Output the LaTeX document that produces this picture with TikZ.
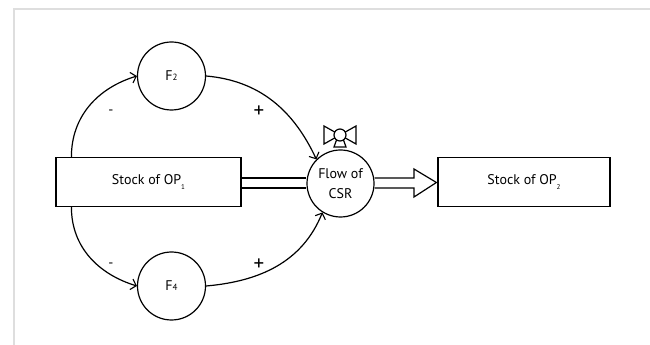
\documentclass[tikz,border=0pt]{standalone}
\usepackage{fontspec}
\setmainfont{PT Sans}
\usetikzlibrary{positioning, arrows, arrows.meta, calc}

\newcommand{\opsub}[1]{\raisebox{-0.75ex}{\fontsize{7}{7}\selectfont #1}}
\newcommand{\fsub}[1]{{\fontsize{9}{9}\selectfont #1}}

\tikzset{
	stock/.style={draw, minimum height=49pt, inner sep=0pt},
	aux/.style={draw, circle, minimum size=68pt, inner sep=0pt},
	link/.style={-{Straight Barb[length=5pt, width=11pt, line width=1.1pt]}},
	sign/.style={font=\fontsize{21}{21}\selectfont, inner sep=0pt},
}

\begin{document}
\begin{tikzpicture}[x=1pt, y=1pt, line width=1.2pt, font=\fontsize{14}{20}\selectfont]
	\useasboundingbox (0, 0) rectangle (650, 345);
	\draw[line width=2pt, black!13] (14, 0) -- (14, 336) -- (650, 336);

	\node[stock, minimum width=185pt] (op1) at (148.5, 163) {Stock of OP\opsub{1}};
	\node[stock, minimum width=172pt] (op2) at (524, 163) {Stock of OP\opsub{2}};
	\node[aux, minimum size=67pt, align=center] (csr) at (340.5, 161.5) {Flow of\\CSR};
	\node[aux] (f2) at (171.5, 269) {F\fsub{2}};
	\node[aux] (f4) at (171.5, 59) {F\fsub{4}};

	% valve on the flow
	\coordinate (valve) at (340, 210);
	\draw (valve) -- ++(-16, 9) -- ++(0, -18) -- cycle
		(valve) -- ++(16, 9) -- ++(0, -18) -- cycle;
	\draw ($(valve)+(-3.5, -5)$) -- ($(valve)+(-6, -12)$) -- ($(valve)+(6, -12)$) -- ($(valve)+(3.5, -5)$);
	\draw[fill=white] (valve) circle[radius=6];

	% pipes
	\draw ($(op1.east)+(0, 4)$) -- ($(csr.west)+(0, 5.5)$);
	\draw ($(op1.east)+(0, -6)$) -- ($(csr.west)+(0, -4.5)$);
	\draw ($(csr.east)+(0, 5.5)$) -- (414, 167) -- (414, 176) -- ($(op2.west)+(-1, -0.5)$)
		-- (414, 148) -- (414, 157) -- ($(csr.east)+(0, -4.5)$);

	% links
	\draw[link] ($(op1.north west)+(16, 0)$) to[out=90, in=197] (f2.west);
	\draw[link] (f2.east) to[out=-5, in=115] (csr.135);
	\draw[link] ($(op1.south west)+(16, 0)$) to[out=-90, in=163] (f4.west);
	\draw[link] (f4.east) to[out=5, in=-112] (csr.238);

	\node (s2) at (111, 233) {-};
	\node[sign] (p2) at (259, 233) {+};
	\node (s4) at (111, 80) {-};
	\node[sign] (p4) at (259, 80) {+};
\end{tikzpicture}
\end{document}
